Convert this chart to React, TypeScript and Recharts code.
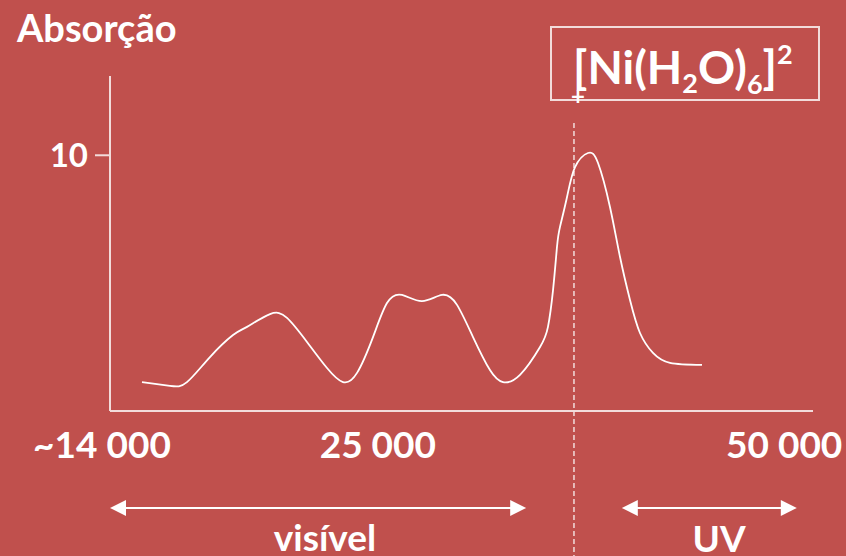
import React from "react";
import {
  ComposedChart,
  Line,
  XAxis,
  YAxis,
  ReferenceLine,
} from "recharts";

// Position along the (non-linear) wavenumber axis, in arbitrary axis units (0..100)
const positions = [
  4.55, 8.53, 10.95, 14.22, 17.5, 19.49, 22.76, 25.18, 28.02, 30.87, 33.14,
  35.14, 37.41, 39.4, 41.54, 44.38, 47.23, 49.36, 51.64, 54.05, 55.9, 58.32,
  61.17, 62.3, 63.02, 63.58, 64.01, 65.01, 66.15, 67.99, 69.42, 71.12, 72.55,
  73.97, 75.39, 77.24, 79.66, 84.21,
];
// Absorbance (same units as the "10" tick)
const absorbance = [
  1.13, 0.98, 1.13, 2.11, 2.97, 3.29, 3.79, 3.64, 2.7, 1.68, 1.13, 1.49, 2.89,
  4.22, 4.54, 4.3, 4.54, 4.15, 2.89, 1.6, 1.13, 1.41, 2.5, 3.29, 4.73, 6.41,
  7.2, 8.37, 9.54, 10.09, 9.7, 7.98, 6.02, 4.34, 3.05, 2.27, 1.88, 1.8,
];

const xTickPositions = [0, 38.1, 95.9];
const xTickLabels = ["~14 000", "25 000", "50 000"];
const xTickShift = [-8, 0, 0];
const yTicks = [10];

const visibleRange = [0, 59.2];
const uvRange = [72.8, 97.7];
const boundaryX = 66.0;

const data = positions.map((x, i) => ({ x, y: absorbance[i] }));

const BG = "#C0504D";
const AXIS = "#F2DCDB";
const FONT = "Lato, 'Open Sans', sans-serif";

const XTick = (props: any) => {
  const { x, y, index } = props;
  return (
    <text
      x={x + xTickShift[index]}
      y={y + 47}
      textAnchor="middle"
      fill="#FFFFFF"
      fontFamily={FONT}
      fontWeight={700}
      fontSize={37}
    >
      {xTickLabels[index]}
    </text>
  );
};

const ArrowShape = (props: any) => {
  const { x1, y1, x2, y2 } = props;
  const L = 16;
  const H = 8;
  return (
    <g>
      <line x1={x1 + L - 2} y1={y1} x2={x2 - L + 2} y2={y2} stroke="#FFFFFF" strokeWidth={2} />
      <polygon points={`${x1},${y1} ${x1 + L},${y1 - H} ${x1 + L},${y1 + H}`} fill="#FFFFFF" />
      <polygon points={`${x2},${y2} ${x2 - L},${y2 - H} ${x2 - L},${y2 + H}`} fill="#FFFFFF" />
    </g>
  );
};

export default function App() {
  return (
    <div
      style={{
        position: "fixed",
        left: 0,
        top: 0,
        width: 846,
        height: 556,
        background: BG,
        overflow: "hidden",
      }}
    >
      <ComposedChart
        width={846}
        height={556}
        data={data}
        margin={{ top: 76, right: 33, bottom: 105, left: 50 }}
      >
        <XAxis
          type="number"
          dataKey="x"
          domain={[0, 100]}
          ticks={xTickPositions}
          interval={0}
          tick={<XTick />}
          tickLine={false}
          tickSize={0}
          tickMargin={0}
          height={40}
          axisLine={{ stroke: AXIS, strokeWidth: 2 }}
          allowDataOverflow
        />
        <YAxis
          type="number"
          domain={[0, 13.1]}
          ticks={yTicks}
          width={60}
          tickSize={15}
          tickMargin={7}
          tickLine={{ stroke: AXIS, strokeWidth: 2 }}
          axisLine={{ stroke: AXIS, strokeWidth: 2 }}
          tick={{ fill: "#FFFFFF", fontSize: 33, fontWeight: 700, fontFamily: FONT }}
          allowDataOverflow
        />
        <ReferenceLine
          segment={[
            { x: boundaryX, y: 11.26 },
            { x: boundaryX, y: -5.8 },
          ]}
          stroke={AXIS}
          strokeWidth={1.5}
          strokeDasharray="5 3"
          ifOverflow="visible"
        />
        <ReferenceLine
          segment={[
            { x: visibleRange[0], y: -3.79 },
            { x: visibleRange[1], y: -3.79 },
          ]}
          ifOverflow="visible"
          shape={<ArrowShape />}
        />
        <ReferenceLine
          segment={[
            { x: uvRange[0], y: -3.79 },
            { x: uvRange[1], y: -3.79 },
          ]}
          ifOverflow="visible"
          shape={<ArrowShape />}
        />
        <Line
          type="natural"
          dataKey="y"
          stroke="#FFFFFF"
          strokeWidth={1.8}
          dot={false}
          activeDot={false}
          isAnimationActive={false}
        />
        <text x={17} y={42} fill="#FFFFFF" fontFamily={FONT} fontWeight={700} fontSize={38}>
          Absorção
        </text>
        <text x={325} y={551} textAnchor="middle" fill="#FFFFFF" fontFamily={FONT} fontWeight={700} fontSize={37}>
          visível
        </text>
        <text x={719} y={552} textAnchor="middle" fill="#FFFFFF" fontFamily={FONT} fontWeight={700} fontSize={37}>
          UV
        </text>
        <rect x={551} y={27} width={268} height={73} fill="none" stroke={AXIS} strokeWidth={2} />
        <text x={573} y={84} fill="#FFFFFF" fontFamily={FONT} fontWeight={700} fontSize={46}>
          <tspan>[Ni(H</tspan>
          <tspan fontSize={27} dy={9}>2</tspan>
          <tspan dy={-9}>O)</tspan>
          <tspan fontSize={27} dy={10}>6</tspan>
          <tspan dy={-10}>]</tspan>
          <tspan fontSize={27} dy={-20}>2</tspan>
        </text>
        <text x={578} y={105} textAnchor="middle" fill="#FFFFFF" fontFamily={FONT} fontWeight={700} fontSize={24}>
          +
        </text>
      </ComposedChart>
    </div>
  );
}
